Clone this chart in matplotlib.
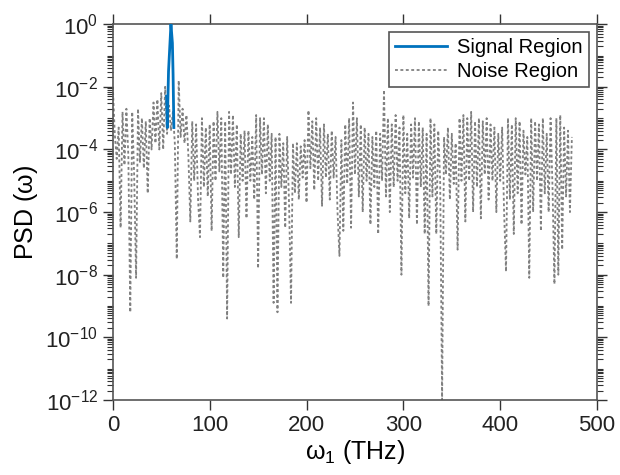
import numpy as np
import matplotlib.pyplot as plt
from matplotlib.ticker import LogLocator, NullFormatter

plt.rcParams['font.family'] = ['Liberation Sans', 'DejaVu Sans']
plt.rcParams['mathtext.default'] = 'regular'

# signal region (THz, log10 PSD)
sig_x = [55.5, 56.2, 57.5, 60.0, 61.5, 62.2, 63.0]
sig_log = [-2.3, -3.3, -1.5, 0.0, -0.6, -1.6, -3.3]

# noise region, sampled every 2 THz from 0 to 474 (log10 PSD)
noise_x = np.arange(0, 476, 2)
noise_log = [
    -2.0, -3.5, -4.3, -3.3, -6.5, -2.8, -4.5, -2.7, -4.2, -9.2,
    -2.8, -4.8, -8.1, -2.7, -4.4, -3.0, -4.6, -3.1, -5.4, -3.0,
    -4.0, -2.5, -3.8, -2.4, -4.0, -2.2, -4.0, -2.0, -3.5, -2.6,
    -3.4, -2.8, -3.8, -7.5, -1.8, -3.6, -2.7, -3.8, -2.9, -4.2,
    -6.3, -3.1, -5.0, -3.2, -5.6, -6.8, -3.0, -5.2, -3.3, -5.5,
    -3.2, -6.6, -3.1, -5.0, -2.8, -4.7, -3.0, -8.1, -3.1, -9.4,
    -2.8, -4.8, -2.9, -5.2, -3.2, -6.8, -3.5, -5.0, -3.4, -6.2,
    -3.4, -5.0, -3.6, -5.6, -2.9, -7.8, -3.0, -4.8, -3.0, -5.4,
    -3.2, -5.0, -3.5, -8.9, -3.6, -9.2, -3.5, -5.2, -3.8, -6.5,
    -3.6, -5.8, -8.9, -3.8, -5.4, -3.8, -5.6, -3.9, -4.9, -3.7,
    -5.7, -2.75, -4.6, -3.1, -5.3, -3.0, -5.0, -3.3, -5.8, -3.2,
    -4.9, -3.5, -5.6, -3.4, -4.9, -3.6, -6.0, -7.4, -3.7, -6.6,
    -3.2, -5.1, -3.0, -6.5, -2.5, -4.8, -3.0, -5.5, -3.2, -6.0,
    -3.3, -5.0, -3.5, -6.4, -3.6, -5.2, -3.4, -6.7, -3.5, -5.0,
    -2.1, -5.5, -3.0, -6.0, -3.2, -5.2, -2.9, -5.0, -3.3, -8.0,
    -2.9, -5.4, -3.5, -6.2, -3.2, -4.9, -3.0, -6.4, -3.1, -5.2,
    -3.3, -6.7, -3.5, -9.0, -3.0, -5.5, -3.2, -6.7, -3.4, -5.0,
    -12.0, -3.6, -4.8, -3.3, -5.6, -3.5, -5.1, -3.8, -7.2, -3.0,
    -5.0, -2.9, -6.3, -3.0, -5.0, -2.8, -6.0, -3.1, -5.2, -3.0,
    -6.2, -3.1, -4.8, -3.0, -5.6, -3.2, -5.0, -3.3, -6.0, -3.5,
    -5.0, -3.3, -6.0, -7.9, -3.0, -5.6, -3.2, -6.7, -3.0, -5.4,
    -3.1, -6.4, -3.4, -4.8, -3.6, -8.1, -3.0, -6.0, -3.1, -5.0,
    -3.2, -6.6, -3.0, -5.4, -3.5, -6.0, -3.0, -5.2, -8.3, -3.0,
    -8.0, -2.9, -7.2, -3.3, -5.5, -3.4, -6.0, -3.6,
]

fig = plt.figure(figsize=(6.2, 4.75), dpi=100)
ax = fig.add_axes([0.182, 0.158, 0.781, 0.791])

ax.plot(sig_x, 10.0 ** np.array(sig_log), color='#0072BD', lw=2.0, label='Signal Region', zorder=3)
ax.plot(noise_x, 10.0 ** np.array(noise_log), color='#808080', ls=(0, (1.6, 1.4)), lw=1.3,
        label='Noise Region', zorder=2)

ax.set_yscale('log')
ax.set_xlim(0, 500)
ax.set_ylim(1e-12, 1e0)
ax.set_xticks([0, 100, 200, 300, 400, 500])
ax.set_yticks([10.0 ** e for e in range(-12, 1, 2)])
ax.yaxis.set_minor_locator(LogLocator(base=10, subs=np.arange(1, 10), numticks=200))
ax.yaxis.set_minor_formatter(NullFormatter())

for s in ax.spines.values():
    s.set_color('#555555')
    s.set_linewidth(1.2)
ax.tick_params(which='both', direction='out', top=True, right=True, colors='#333333', labelcolor='#222222')
ax.tick_params(which='major', length=7, width=1.0, labelsize=16)
ax.tick_params(which='minor', length=4, width=0.8)

ax.set_xlabel(r'$\omega_1$ (THz)', fontsize=18, labelpad=2)
ax.set_ylabel(r'PSD ($\omega$)', fontsize=18, labelpad=4)

leg = ax.legend(loc='upper right', fontsize=14.5, fancybox=False, framealpha=1,
                edgecolor='#555555', borderaxespad=0.4, handlelength=2.6,
                borderpad=0.3, labelspacing=0.25, handletextpad=0.5)
leg.get_frame().set_linewidth(1.2)

plt.savefig('out.png', dpi=100)
